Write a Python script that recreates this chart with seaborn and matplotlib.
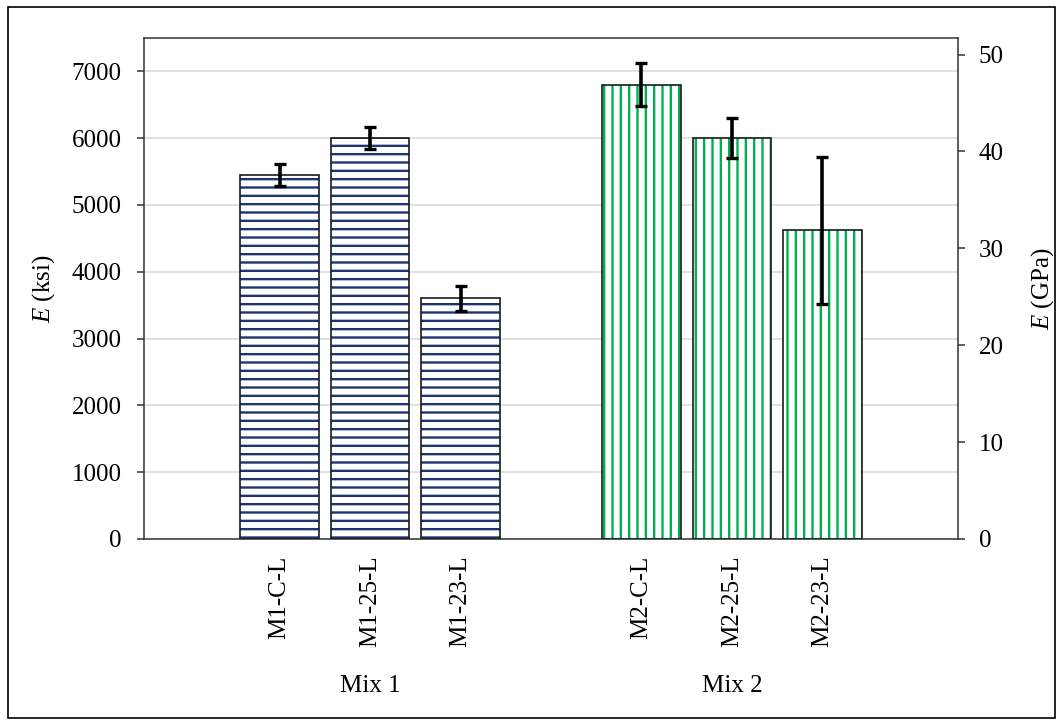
import matplotlib
matplotlib.use("Agg")
import matplotlib.pyplot as plt
import matplotlib.patches as mpatches
import matplotlib.transforms as mtransforms
import numpy as np
import pandas as pd
import seaborn as sns

# Elastic modulus per specimen (ksi) with standard deviation
specimens = ["M1-C-L", "M1-25-L", "M1-23-L", "M2-C-L", "M2-25-L", "M2-23-L"]
mixes = ["Mix 1", "Mix 1", "Mix 1", "Mix 2", "Mix 2", "Mix 2"]
modulus_ksi = [5450, 6000, 3600, 6800, 6000, 4620]
std_ksi = [165, 165, 180, 320, 300, 1100]

# category order with empty slots separating the two mixes
order = [" ", "M1-C-L", "M1-25-L", "M1-23-L", "  ", "M2-C-L", "M2-25-L", "M2-23-L", "   "]
group_labels = ["Mix 1", "Mix 2"]
ksi_to_gpa = 0.00689476

df = pd.DataFrame({"Specimen": specimens, "Mix": mixes, "E": modulus_ksi, "SD": std_ksi})

sns.set_theme(style="white")
plt.rcParams["font.family"] = ["Liberation Serif", "DejaVu Serif"]
plt.rcParams["mathtext.fontset"] = "custom"
plt.rcParams["mathtext.rm"] = "Liberation Serif"
plt.rcParams["mathtext.it"] = "Liberation Serif:italic"
plt.rcParams["hatch.linewidth"] = 1.7
plt.rcParams["text.color"] = "black"
plt.rcParams["axes.labelcolor"] = "black"
plt.rcParams["xtick.color"] = "black"
plt.rcParams["ytick.color"] = "black"

FS = 18
hatch_style = {"Mix 1": ("--", "#1c3470"), "Mix 2": ("||", "#00b050")}

fig = plt.figure(figsize=(10.63, 7.26), dpi=100)
ax = fig.add_axes([0.1355, 0.2576, 0.7657, 0.6901])

sns.barplot(data=df, x="Specimen", y="E", hue="Mix", order=order, dodge=False,
            width=0.87, errorbar=None, legend=False, ax=ax, zorder=2)

# restyle bars: white fill, coloured hatch, black outline
for p in list(ax.patches):
    if p.get_height() == 0 or np.isnan(p.get_height()):
        continue
    xc = p.get_x() + p.get_width() / 2
    name = order[int(round(xc))]
    mix = mixes[specimens.index(name)]
    hatch, col = hatch_style[mix]
    p.set_facecolor("white")
    p.set_edgecolor(col)
    p.set_hatch(hatch)
    p.set_linewidth(0)
    outline = mpatches.Rectangle((p.get_x(), p.get_y()), p.get_width(), p.get_height(),
                                 fill=False, edgecolor="#1a1a1a", linewidth=1.2, zorder=3)
    ax.add_patch(outline)

xpos = [order.index(s) for s in specimens]
ax.errorbar(xpos, modulus_ksi, yerr=std_ksi, fmt="none", ecolor="black",
            elinewidth=2.6, capsize=4.6, capthick=2.4, zorder=4)

ax.set_xlim(-0.5, len(order) - 0.5)
ax.set_ylim(0, 7500)
ax.set_yticks(np.arange(0, 7001, 1000))
ax.yaxis.grid(True, color="#d9d9d9", linewidth=1.1, zorder=0)
ax.set_axisbelow(True)
ax.set_xlabel("")
ax.set_ylabel(r"$\mathit{E}$ (ksi)", fontsize=FS, labelpad=11)
ax.set_xticks(range(len(order)))
ax.set_xticklabels(order, rotation=90, fontsize=FS)
ax.tick_params(axis="x", length=0, pad=12)
ax.tick_params(axis="y", direction="out", length=5, width=1.1, color="#333333",
               labelsize=FS, pad=11, left=True)
for s in ax.spines.values():
    s.set_visible(True)
    s.set_color("#333333")
    s.set_linewidth(1.1)

# secondary axis in GPa
ax2 = ax.twinx()
ax2.set_ylim(0, 7500 * ksi_to_gpa)
ax2.set_yticks(np.arange(0, 51, 10))
ax2.set_ylabel(r"$\mathit{E}$ (GPa)", fontsize=FS, labelpad=18)
ax2.tick_params(axis="y", direction="out", length=5, width=1.1, color="#333333",
                labelsize=FS, pad=10, right=True)
ax2.grid(False)
for s in ax2.spines.values():
    s.set_visible(False)

# group labels beneath the specimen names
trans = mtransforms.blended_transform_factory(ax.transData, fig.transFigure)
for label, members in zip(group_labels, [specimens[:3], specimens[3:]]):
    xc = np.mean([order.index(m) for m in members])
    ax.text(xc, 0.055, label, transform=trans, ha="center", va="center", fontsize=FS)

# frame around the whole figure
fig.patches.append(mpatches.Rectangle((0.0075, 0.011), 0.985, 0.979, transform=fig.transFigure,
                                      fill=False, edgecolor="black", linewidth=1.2))

fig.savefig("out.png", dpi=100)
